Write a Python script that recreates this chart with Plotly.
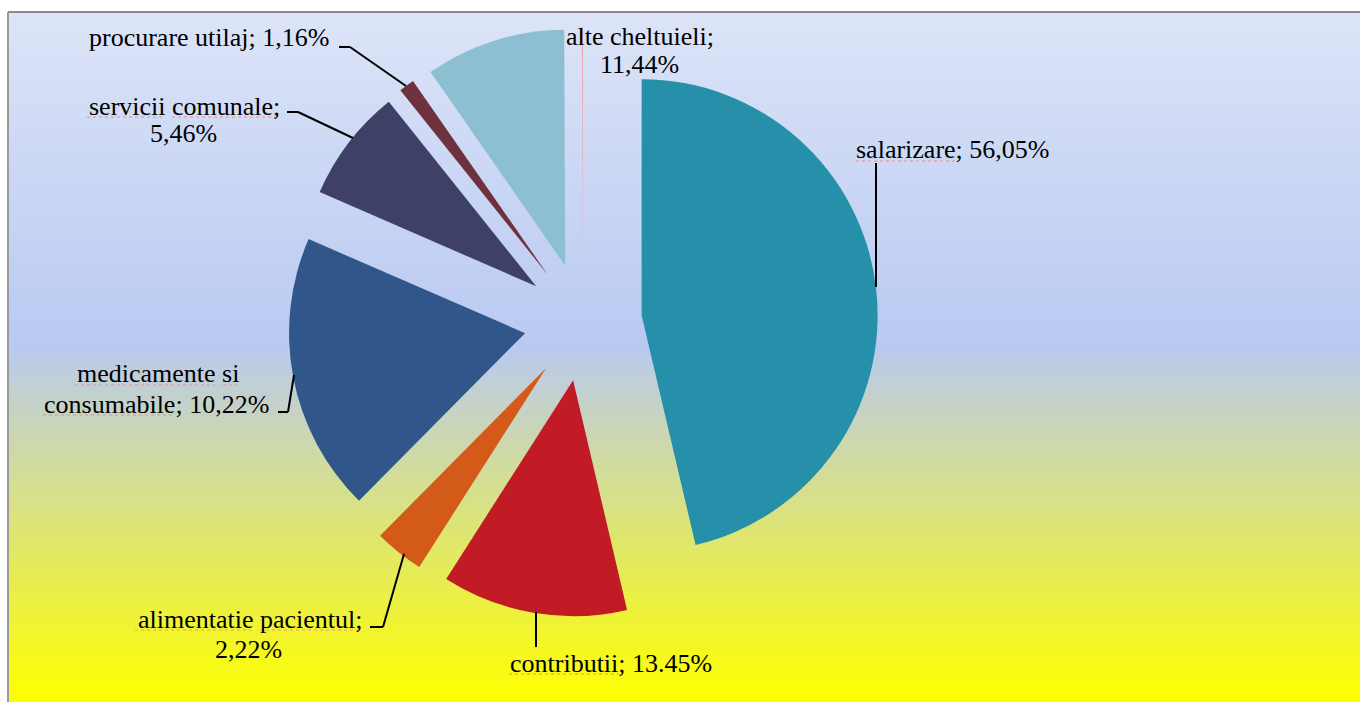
import plotly.graph_objects as go

# ---------------- data ----------------
categories = ["salarizare", "contributii", "alimentatie pacientul", "medicamente si consumabile",
              "servicii comunale", "procurare utilaj", "alte cheltuieli", ""]
# slice sizes as drawn in the picture (share of the circle, %)
slice_values = [46.36, 12.72, 3.39, 19.11, 7.75, 1.06, 9.61, 0.07]
# label texts as printed on the chart
label_lines = [
    ["salarizare; 56,05%"],
    ["contributii; 13.45%"],
    ["alimentatie pacientul;", "2,22%"],
    ["medicamente si", "consumabile; 10,22%"],
    ["servicii comunale;", "5,46%"],
    ["procurare utilaj; 1,16%"],
    ["alte cheltuieli;", "11,44%"],
]
slice_colors = ["#2690aa", "#c11b26", "#d35a18", "#31578a", "#3e4068", "#6e323e", "#8bbfd1", "#eea0a8"]

# ---------------- layout helpers ----------------
W, H = 1360, 702
OFF = 0  # body margin removed via post_script
def fx(px):
    return (px - OFF) / W
def fy(py):
    return 1 - (py - OFF) / H

# label anchor points (center x, baseline y) per line
label_pos = [
    [(953, 158)],
    [(611, 672)],
    [(250, 628), (249, 658)],
    [(158, 383), (156, 413)],
    [(184, 115), (183, 142)],
    [(209, 47)],
    [(640, 45), (639, 73)],
]
FS = 26

# leader lines (polyline vertices in px)
leaders = [
    [(876, 163), (876, 287)],
    [(536, 612), (536, 647)],
    [(370, 627), (383, 627), (404, 554)],
    [(278, 412), (288, 412), (294, 375)],
    [(287, 112), (298, 112), (353, 138)],
    [(339, 47), (350, 47), (406, 86)],
]

# spell-check underlines (x0, x1, y, color)
squiggles = [
    (856, 957, 161, "#ec8d95"),
    (509, 619, 674, "#ec8d95"),
    (135, 253, 630, "#f0a070"),
    (260, 359, 630, "#f0a070"),
    (75, 215, 385, "#ec8d95"),
    (223, 240, 385, "#ec8d95"),
    (43, 175, 415, "#ec8d95"),
    (87, 164, 117, "#ec8d95"),
    (172, 277, 117, "#ec8d95"),
]

fig = go.Figure()

# pie geometry: center (583, 322), box 590 px tall
cy_top, cy_bot = 27, 617
cx = 583
fig.add_trace(go.Pie(
    labels=categories,
    values=slice_values,
    marker=dict(colors=slice_colors, line=dict(width=0)),
    sort=False,
    direction="clockwise",
    rotation=0,
    pull=[0.25] * len(slice_values),
    textinfo="none",
    hoverinfo="label+percent",
    showlegend=False,
    domain=dict(x=[fx(cx - 340), fx(cx + 340)], y=[fy(cy_bot), fy(cy_top)]),
))

shapes = []
# gradient background
def lerp(a, b, t):
    t = max(0.0, min(1.0, t))
    return tuple(int(round(a[i] + (b[i] - a[i]) * t)) for i in range(3))
top_c, mid_c, bot_c = (220, 228, 247), (185, 201, 241), (255, 255, 0)
y_start, y_mid, y_end = 12, 345, 702
step = 4
y = y_start
while y < y_end:
    yc = y + step / 2
    if yc <= y_mid:
        c = lerp(top_c, mid_c, (yc - y_start) / (y_mid - y_start))
    else:
        c = lerp(mid_c, bot_c, (yc - y_mid) / (y_end - y_mid))
    shapes.append(dict(type="rect", xref="paper", yref="paper", x0=fx(8), x1=1.0,
                       y0=max(0.0, fy(y + step + 0.5)), y1=fy(y), fillcolor="rgb(%d,%d,%d)" % c,
                       line=dict(width=0), layer="below"))
    y += step

# border
shapes.append(dict(type="line", xref="paper", yref="paper", x0=fx(8), x1=fx(8), y0=0, y1=fy(12),
                   line=dict(color="#9a9a9a", width=2), layer="above"))
shapes.append(dict(type="line", xref="paper", yref="paper", x0=fx(8), x1=1, y0=fy(12), y1=fy(12),
                   line=dict(color="#8a8a8a", width=2), layer="above"))

for pts in leaders:
    for (x0, y0), (x1, y1) in zip(pts[:-1], pts[1:]):
        shapes.append(dict(type="line", xref="paper", yref="paper", x0=fx(x0), y0=fy(y0),
                           x1=fx(x1), y1=fy(y1), line=dict(color="black", width=2), layer="above"))

for x0, x1, yy, col in squiggles:
    shapes.append(dict(type="line", xref="paper", yref="paper", x0=fx(x0), x1=fx(x1), y0=fy(yy), y1=fy(yy),
                       line=dict(color=col, width=1, dash="dot"), layer="above"))

annotations = []
for lines, poss in zip(label_lines, label_pos):
    for txt, (px, py) in zip(lines, poss):
        annotations.append(dict(text=txt, x=fx(px), y=fy(py - 9), xref="paper", yref="paper",
                                xanchor="center", yanchor="middle", showarrow=False,
                                font=dict(family="Liberation Serif", size=FS, color="black")))

fig.update_layout(
    width=W, height=H,
    margin=dict(l=0, r=0, t=0, b=0),
    paper_bgcolor="white",
    plot_bgcolor="white",
    shapes=shapes,
    annotations=annotations,
)

fig.write_html(
    "out.html",
    config={"displayModeBar": False},
    post_script="document.body.style.margin='0';document.body.style.overflow='hidden';"
                "document.documentElement.style.overflow='hidden';",
)
